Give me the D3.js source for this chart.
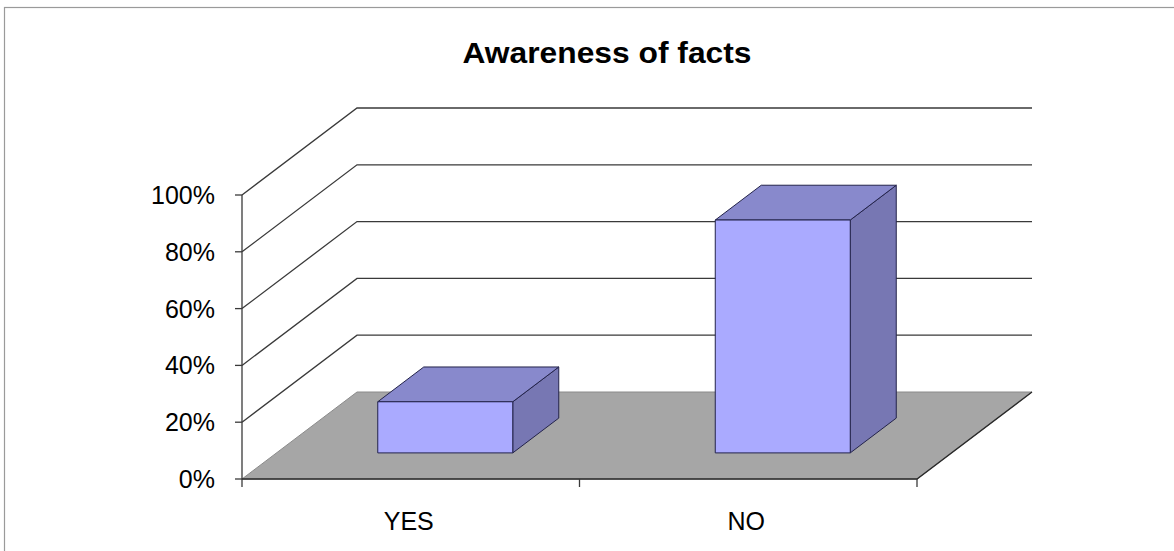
<!DOCTYPE html>
<html>
<head>
<meta charset="utf-8">
<script src="https://cdn.jsdelivr.net/npm/d3@7"></script>
<style>
  html, body { margin: 0; padding: 0; background: #fff; }
  svg { display: block; }
  text { font-family: "Liberation Sans", Arial, sans-serif; fill: #000; }
</style>
</head>
<body>
<svg id="chart" width="1174" height="551"></svg>
<script>
// Chart data
const categories = ["YES", "NO"];
const values = [0.18, 0.82];
const yTicks = [0, 0.2, 0.4, 0.6, 0.8, 1.0];
const title = "Awareness of facts";

const svg = d3.select("#chart");
const W = 1174, H = 551;

// Frame of the chart area
svg.append("rect")
  .attr("x", 4.5).attr("y", 7.5)
  .attr("width", W + 10).attr("height", H + 10)
  .attr("fill", "#fff")
  .attr("stroke", "#9a9a9a").attr("stroke-width", 1.2);

// Front plane scales
const x = d3.scaleBand().domain(categories).range([242, 917]);
const y = d3.scaleLinear().domain([0, 1]).range([479, 195]);

// Depth vector of the 3D box (front -> back)
const depth = { dx: 115, dy: -87 };
const barDepth = [0.3, 0.7];   // bar position within the depth
const barWidthFrac = 0.4;       // bar width relative to the band

const pt = (px, py, d) => [px + depth.dx * d, py + depth.dy * d];
const line = d3.line();

// Title
svg.append("text")
  .attr("x", 607).attr("y", 63)
  .attr("text-anchor", "middle")
  .attr("font-weight", "bold")
  .attr("font-size", 30)
  .attr("textLength", 289)
  .attr("lengthAdjust", "spacingAndGlyphs")
  .text(title);

const x0 = x.range()[0], x1 = x.range()[1];

// Walls: gridlines across the side wall and the back wall
const grid = svg.append("g");
yTicks.filter(t => t > 0).forEach(t => {
  const a = [x0, y(t)];
  const b = pt(x0, y(t), 1);
  const c = [pt(x1, y(t), 1)[0], b[1]];
  grid.append("path")
    .attr("d", line([a, b, c]))
    .attr("fill", "none")
    .attr("stroke", "#3a3a3a")
    .attr("stroke-width", 1.3);
});

// Floor
const f0 = [x0, y(0)], f1 = [x1, y(0)], f2 = pt(x1, y(0), 1), f3 = pt(x0, y(0), 1);
svg.append("path")
  .attr("d", line([f0, f1, f2, f3]) + "Z")
  .attr("fill", "#a6a6a6")
  .attr("stroke", "#8a8a8a").attr("stroke-width", 1);
svg.append("path")
  .attr("d", line([f0, f1, f2]))
  .attr("fill", "none")
  .attr("stroke", "#2a2a2a").attr("stroke-width", 1.3);

// Value axis
const axis = svg.append("g");
axis.append("line")
  .attr("x1", x0).attr("x2", x0)
  .attr("y1", y(1)).attr("y2", y(0))
  .attr("stroke", "#3a3a3a").attr("stroke-width", 1.3);
yTicks.forEach(t => {
  axis.append("line")
    .attr("x1", x0 - 7).attr("x2", x0)
    .attr("y1", y(t)).attr("y2", y(t))
    .attr("stroke", "#3a3a3a").attr("stroke-width", 1.3);
  axis.append("text")
    .attr("x", x0 - 27).attr("y", y(t) + 9)
    .attr("text-anchor", "end")
    .attr("font-size", 25)
    .text(d3.format(".0%")(t));
});

// Category axis ticks and labels
const catTicks = [x0, ...categories.map(c => x(c) + x.bandwidth())];
catTicks.forEach(tx => {
  axis.append("line")
    .attr("x1", tx).attr("x2", tx)
    .attr("y1", y(0)).attr("y2", y(0) + 8)
    .attr("stroke", "#3a3a3a").attr("stroke-width", 1.3);
});
categories.forEach(c => {
  axis.append("text")
    .attr("x", x(c) + x.bandwidth() / 2 - 2)
    .attr("y", 530)
    .attr("text-anchor", "middle")
    .attr("font-size", 25)
    .text(c);
});

// Bars as 3D boxes
const bars = svg.append("g");
categories.forEach((c, i) => {
  const bw = x.bandwidth() * barWidthFrac;
  const cx = x(c) + x.bandwidth() / 2;
  const left = cx - bw / 2, right = cx + bw / 2;
  const [d0, d1] = barDepth;
  const yb = y(0), yt = y(values[i]);
  const A = pt(left, yb, d0), B = pt(right, yb, d0);
  const C = pt(right, yt, d0), D = pt(left, yt, d0);
  const Bb = pt(right, yb, d1), Cb = pt(right, yt, d1), Db = pt(left, yt, d1);
  const stroke = "#23234a";
  // right side
  bars.append("path").attr("d", line([B, Bb, Cb, C]) + "Z")
    .attr("fill", "#7777b3").attr("stroke", stroke).attr("stroke-width", 1);
  // top
  bars.append("path").attr("d", line([D, C, Cb, Db]) + "Z")
    .attr("fill", "#8889cc").attr("stroke", stroke).attr("stroke-width", 1);
  // front
  bars.append("path").attr("d", line([A, B, C, D]) + "Z")
    .attr("fill", "#aaaaff").attr("stroke", stroke).attr("stroke-width", 1);
});
</script>
</body>
</html>
